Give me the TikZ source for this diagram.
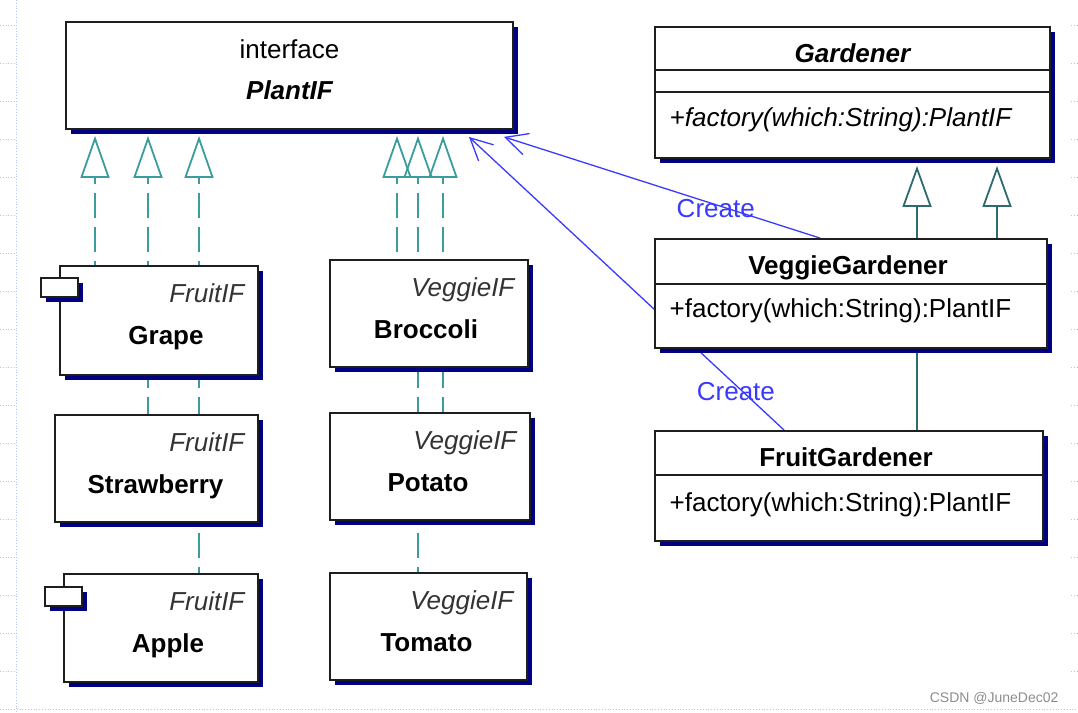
\documentclass[tikz,border=0pt]{standalone}
\usepackage{fontspec}
\setmainfont{Liberation Sans}
\usepackage{tikz}
\usetikzlibrary{arrows.meta,shadows}

\definecolor{ShadowNavy}{HTML}{000080}
\definecolor{BoxLine}{HTML}{1E1E1E}
\definecolor{RealTeal}{HTML}{3A9C9C}
\definecolor{GenTeal}{HTML}{2E6B6B}
\definecolor{CreateBlue}{HTML}{3A3AFF}
\definecolor{GridBlue}{HTML}{B3C3F2}

\pgfdeclarelayer{background}
\pgfsetlayers{background,main}

\begin{document}
\begin{tikzpicture}[
  x=1pt, y=-1pt,
  every node/.style={font=\fontsize{26}{30}\selectfont},
  classbox/.style={draw=BoxLine, line width=1.8pt, fill=white, inner sep=0pt,
    drop shadow={shadow xshift=5pt, shadow yshift=-5pt, fill=ShadowNavy, opacity=1}},
  iconbox/.style={classbox, minimum width=37pt, minimum height=19pt},
  ifname/.style={anchor=base east, xshift=-11pt, yshift=-37pt,
    font=\fontsize{26}{30}\selectfont\itshape, text=black!80},
  plantname/.style={anchor=base, yshift=-79pt, font=\fontsize{26}{30}\selectfont\bfseries},
  classname/.style={anchor=base, yshift=-36pt, font=\fontsize{26}{30}\selectfont\bfseries},
  method/.style={anchor=base west, xshift=12pt, font=\fontsize{26}{30}\selectfont},
  realize/.style={RealTeal, line width=1.8pt, dash pattern=on 25pt off 9pt, dash phase=18pt,
    {Triangle[open, length=42pt, width=29pt]}-, shorten <=6pt},
  generalize/.style={GenTeal, line width=1.8pt,
    {Triangle[open, length=41pt, width=29pt]}-, shorten <=7pt},
  create/.style={CreateBlue, line width=1.3pt, -{Straight Barb[length=22pt, width=22pt]}},
  createlabel/.style={text=CreateBlue, inner sep=0pt},
  gridline/.style={GridBlue, line width=0.8pt, dotted},
  ]
  \useasboundingbox (0,0) rectangle (1078,712);

  %Interface
  \node[classbox, minimum width=447pt, minimum height=107pt,
    label={[anchor=base, yshift=-37pt]north:interface},
    label={[anchor=base, yshift=-78pt, font=\fontsize{26}{30}\selectfont\bfseries\itshape]north:PlantIF}]
    (plantif) at (289.5,75.5) {};

  %Fruits
  \node[classbox, minimum width=198pt, minimum height=109pt,
    label={[ifname]north east:FruitIF}, label={[plantname, xshift=7pt]north:Grape}]
    (grape) at (159,320.5) {};
  \node[iconbox] (grapeicon) at ([yshift=-22pt]grape.north west) {};
  \node[classbox, minimum width=203pt, minimum height=107pt,
    label={[ifname]north east:FruitIF}, label={[plantname, xshift=-1pt]north:Strawberry}]
    (strawberry) at (156.5,468.5) {};
  \node[classbox, minimum width=194pt, minimum height=108pt,
    label={[ifname]north east:FruitIF}, label={[plantname, xshift=7pt]north:Apple}]
    (apple) at (161,628) {};
  \node[iconbox] (appleicon) at ([yshift=-23pt]apple.north west) {};

  %Veggies
  \node[classbox, minimum width=198pt, minimum height=107pt,
    label={[ifname]north east:VeggieIF}, label={[plantname, xshift=-3pt]north:Broccoli}]
    (broccoli) at (429,313.5) {};
  \node[classbox, minimum width=200pt, minimum height=107pt,
    label={[ifname]north east:VeggieIF}, label={[plantname, xshift=-2pt]north:Potato}]
    (potato) at (430,466.5) {};
  \node[classbox, minimum width=197pt, minimum height=107pt,
    label={[ifname]north east:VeggieIF}, label={[plantname, xshift=-2pt]north:Tomato}]
    (tomato) at (428.5,626.5) {};

  %Gardeners
  \node[classbox, minimum width=395pt, minimum height=131pt,
    label={[classname, font=\fontsize{26}{30}\selectfont\bfseries\itshape]north:Gardener},
    label={[method, yshift=-100pt, font=\fontsize{26}{30}\selectfont\itshape]north west:{+factory(which:String):PlantIF}}]
    (gardener) at (852.5,92.5) {};
  \node[classbox, minimum width=392pt, minimum height=109pt,
    label={[classname, xshift=-3pt]north:VeggieGardener},
    label={[method, yshift=-79pt]north west:{+factory(which:String):PlantIF}}]
    (veggiegardener) at (851,293.5) {};
  \node[classbox, minimum width=388pt, minimum height=110pt,
    label={[classname, xshift=-3pt]north:FruitGardener},
    label={[method, yshift=-81pt]north west:{+factory(which:String):PlantIF}}]
    (fruitgardener) at (849,486) {};

  %Compartments
  \draw[BoxLine, line width=1.8pt]
    ([yshift=-44pt]gardener.north west) -- ([yshift=-44pt]gardener.north east)
    ([yshift=-66pt]gardener.north west) -- ([yshift=-66pt]gardener.north east)
    ([yshift=-46pt]veggiegardener.north west) -- ([yshift=-46pt]veggiegardener.north east)
    ([yshift=-45pt]fruitgardener.north west) -- ([yshift=-45pt]fruitgardener.north east);

  \node[anchor=base east, font=\fontsize{14}{16}\selectfont, text=black!45]
    (mark) at (1062,702) {CSDN @JuneDec02};

  %Lines
  \begin{pgfonlayer}{background}
    \draw[gridline] (16,0) -- (16,712);
    \draw[gridline] (0,709) -- (1078,709);
    \foreach \y in {25,63,...,671} {
      \draw[gridline] (0,\y) -- (16,\y);
      \draw[gridline] (1071,\y) -- (1078,\y);
    }
    \foreach \x/\target in {95/grape, 148/strawberry, 199/apple,
                            397/broccoli, 443/potato, 418/tomato}
      \draw[realize] (\x,0 |- plantif.south) -- (\x,0 |- \target.north);
    \foreach \x/\target in {917/fruitgardener, 997/veggiegardener}
      \draw[generalize] (\x,0 |- gardener.south) -- (\x,0 |- \target.north);
    \draw[create] ([xshift=166pt]veggiegardener.north west)
      -- node[createlabel, pos=0.33, yshift=-4pt] {Create} ([xshift=-10pt, yshift=-7pt]plantif.south east);
    \draw[create] ([xshift=130pt]fruitgardener.north west)
      -- node[createlabel, pos=0.153, yshift=-6pt] {Create} ([xshift=-45pt, yshift=-7pt]plantif.south east);
  \end{pgfonlayer}
\end{tikzpicture}
\end{document}
